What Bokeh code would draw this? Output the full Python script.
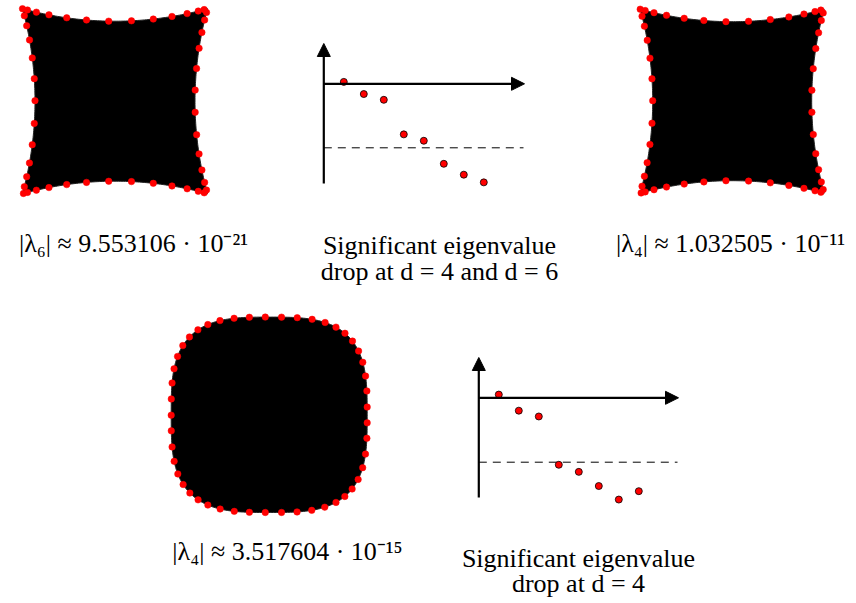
import numpy as np
from bokeh.plotting import figure
from bokeh.models import Range1d, Arrow, NormalHead, Label
from bokeh.embed import file_html
from bokeh.resources import INLINE

# ---------------- data ----------------
# eigenvalue-drop sketches: d index and relative log-magnitude (threshold = -1)
d_index = [1, 2, 3, 4, 5, 6, 7, 8]
eig_drop_top = [0.03, -0.16, -0.25, -0.79, -0.89, -1.25, -1.42, -1.54]
eig_drop_bottom = [0.05, -0.20, -0.29, -1.04, -1.15, -1.37, -1.58, -1.45]
threshold = -1.0

# sample-point parameters on the concave (star-like) shapes, per edge (0..1)
concave_top_t = [0.0, 0.027, 0.075, 0.143, 0.239, 0.346, 0.466, 0.589, 0.707, 0.808, 0.890, 0.950, 0.982]
concave_right_t = [0.02, 0.061, 0.128, 0.214, 0.323, 0.44, 0.56, 0.681, 0.785, 0.872, 0.939, 0.98]
concave_bottom_t = [0.005, 0.027, 0.075, 0.143, 0.239, 0.346, 0.466, 0.589, 0.707, 0.808, 0.890, 0.950, 0.982]
concave_left_t = [0.038, 0.092, 0.169, 0.266, 0.378, 0.497, 0.620, 0.735, 0.834, 0.908, 0.962]

# sample-point polar angles (degrees) on the rounded square
rounded_angles = [110.0, 101.5, 92.3, 82.8, 73.9, 65.8, 58.8, 52.7, 47.1, 41.5, 35.5, 29.3, 21.9,
                  13.7, 4.5, -4.7, -13.5, -22.2, -29.5, -36.0, -41.8, -47.2, -52.7, -59.0, -66.0,
                  -74.0, -82.8, 267.7, 258.5, 250.1, 242.5, 235.8, 230.1, 224.6, 219.0, 212.9,
                  206.1, 198.3, 189.3, 180.2, 170.8, 161.9, 154.2, 147.5, 141.3, 135.7, 130.0,
                  124.2, 117.6]

captions = {
    "tl": "|λ₆| ≈ 9.553106 · 10⁻²¹",
    "tr": "|λ₄| ≈ 1.032505 · 10⁻¹¹",
    "bl": "|λ₄| ≈ 3.517604 · 10⁻¹⁵",
    "tm": ["Significant eigenvalue", "drop at d = 4 and d = 6"],
    "bm": ["Significant eigenvalue", "drop at d = 4"],
}

# ---------------- layout / style ----------------
W, H = 856, 603
FONT = "Liberation Serif"
FS = "26px"

p = figure(width=W, height=H, x_range=Range1d(0, W), y_range=Range1d(H, 0),
           x_axis_type=None, y_axis_type=None, toolbar_location=None,
           output_backend="svg", min_border=0)
p.outline_line_color = None
p.grid.visible = False
p.background_fill_color = "white"
p.border_fill_color = "white"


def concave_shape(cx, cy, h, s):
    xl, xr, yt, yb = cx - h, cx + h, cy - h, cy + h
    n = 80
    t = np.linspace(0, 1, n)
    bump = 4 * s * t * (1 - t)
    xs = np.concatenate([xl + 2 * h * t, xr - bump, xr - 2 * h * t, xl + bump])
    ys = np.concatenate([yt + bump, yt + 2 * h * t, yb - bump, yb - 2 * h * t])
    p.patch(xs, ys, fill_color="black", line_color="#222222", line_width=1)

    def edge(ts, kind):
        ts = np.asarray(ts)
        b = 4 * s * ts * (1 - ts)
        if kind == "top":
            return xl + 2 * h * ts, yt + b
        if kind == "right":
            return xr - b, yt + 2 * h * ts
        if kind == "bottom":
            return xl + 2 * h * ts, yb - b
        return xl + b, yt + 2 * h * ts

    dx, dy = [], []
    for ts, k in [(concave_top_t, "top"), (concave_right_t, "right"),
                  (concave_bottom_t, "bottom"), (concave_left_t, "left")]:
        a, b = edge(ts, k)
        dx.extend(a)
        dy.extend(b)
    p.scatter(dx, dy, size=6.5, fill_color="red", line_color="red", line_width=0.5)


def rounded_shape(cx, cy, a, b, n):
    th = np.linspace(0, 2 * np.pi, 400)
    r = 1.0 / (np.abs(np.cos(th) / a) ** n + np.abs(np.sin(th) / b) ** n) ** (1.0 / n)
    p.patch(cx + r * np.cos(th), cy - r * np.sin(th), fill_color="black",
            line_color="#222222", line_width=1)
    ang = np.radians(np.asarray(rounded_angles))
    r2 = 1.0 / (np.abs(np.cos(ang) / a) ** n + np.abs(np.sin(ang) / b) ** n) ** (1.0 / n)
    p.scatter(cx + r2 * np.cos(ang), cy - r2 * np.sin(ang), size=6.5,
              fill_color="red", line_color="red", line_width=0.5)


def head():
    return NormalHead(size=13, fill_color="black", fill_alpha=1.0,
                      line_color="black", line_width=1)


def drop_sketch(ox, oy, top, bottom, right, step, scale, vals):
    p.add_layout(Arrow(end=head(), x_start=ox, y_start=bottom, x_end=ox, y_end=top,
                       line_width=2.2, line_color="black"))
    p.add_layout(Arrow(end=head(), x_start=ox, y_start=oy, x_end=right, y_end=oy,
                       line_width=2.2, line_color="black"))
    ty = oy - threshold * scale
    p.segment(x0=[ox], y0=[ty], x1=[right - 1], y1=[ty], line_color="black",
              line_width=1, line_dash="8 6")
    xs = [ox + step * d for d in d_index]
    ys = [oy - v * scale for v in vals]
    p.scatter(xs, ys, size=7, fill_color="red", line_color="black", line_width=0.8)


def caption(x, y, text):
    p.add_layout(Label(x=x, y=y, text=text, text_font=FONT, text_font_size=FS,
                       text_align="center", text_baseline="middle", text_color="black"))


concave_shape(114.5, 100.7, 92.5, 12.5)
concave_shape(731.7, 100.7, 92.0, 12.5)
rounded_shape(268.7, 414.3, 98.0, 97.7, 3.2)

drop_sketch(323.3, 83.3, 43, 183, 524, 20, 64.0, eig_drop_top)
drop_sketch(478.3, 397.3, 357, 497, 678, 20, 64.4, eig_drop_bottom)

caption(133, 243, captions["tl"])
caption(730, 243, captions["tr"])
caption(287, 551, captions["bl"])
caption(439, 245, captions["tm"][0])
caption(439, 271, captions["tm"][1])
caption(578, 558, captions["bm"][0])
caption(578, 583, captions["bm"][1])

open("out.html", "w").write(file_html(p, INLINE))
